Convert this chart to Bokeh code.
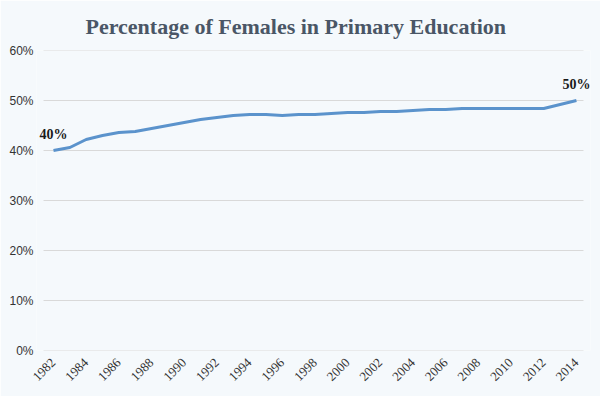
import math
from bokeh.plotting import figure
from bokeh.models import Range1d, FixedTicker, Label, CustomJSTickFormatter
from bokeh.embed import file_html
from bokeh.resources import INLINE

years = list(range(1982, 2015))
female_pct = [40.0, 40.6, 42.2, 43.0, 43.6, 43.8, 44.4, 45.0, 45.6, 46.2, 46.6,
              47.0, 47.2, 47.2, 47.0, 47.2, 47.2, 47.4, 47.6, 47.6, 47.8, 47.8,
              48.0, 48.2, 48.2, 48.4, 48.4, 48.4, 48.4, 48.4, 48.4, 49.2, 50.0]
x_ticks = list(range(1982, 2015, 2))
y_ticks = [0, 10, 20, 30, 40, 50, 60]
title_text = "Percentage of Females in Primary Education"

BG = "#F5F9FC"
p = figure(width=600, height=396, output_backend="svg", toolbar_location=None,
           x_range=Range1d(1980.96, 2014.86), y_range=Range1d(0, 60),
           background_fill_color=BG, border_fill_color=BG,
           min_border_left=36, min_border_right=10, min_border_top=0, min_border_bottom=46)
p.outline_line_color = None

p.title.text = title_text
p.title.align = "left"
p.title.offset = 49
p.title.text_font = "Liberation Serif"
p.title.text_font_style = "bold"
p.title.text_font_size = "22px"
p.title.text_color = "#4A5666"
p.title.standoff = 23

# horizontal gridlines (shorter than the frame, as in the reference)
g_start = years[0] - 0.61
g_end = years[-1] + 0.43
p.segment(x0=[g_start] * len(y_ticks), x1=[g_end] * len(y_ticks), y0=y_ticks, y1=y_ticks,
          line_color="#D9D9D9", line_width=1)

p.line(years, female_pct, line_color="#5B93CC", line_width=3)

for yr, val in [(years[0], female_pct[0]), (years[-1], female_pct[-1])]:
    p.add_layout(Label(x=yr, y=val, text=f"{val:.0f}%", text_align="center",
                       text_baseline="bottom", y_offset=9,
                       text_font="Liberation Serif", text_font_style="bold",
                       text_font_size="14px", text_color="#1A1A1A"))

p.xaxis.ticker = FixedTicker(ticks=x_ticks)
p.yaxis.ticker = FixedTicker(ticks=y_ticks)
p.yaxis.formatter = CustomJSTickFormatter(code="return tick + '%';")
p.xaxis.major_label_orientation = math.pi / 4
for ax in (p.xaxis, p.yaxis):
    ax.axis_line_color = None
    ax.major_tick_line_color = None
    ax.minor_tick_line_color = None
    ax.major_tick_out = 0
    ax.major_tick_in = 0
    ax.minor_tick_out = 0
    ax.minor_tick_in = 0
    ax.major_label_text_color = "#333333"
p.xaxis.major_label_text_font = "Liberation Serif"
p.xaxis.major_label_text_font_size = "13px"
p.yaxis.major_label_text_font = "Liberation Sans"
p.yaxis.major_label_text_font_size = "12px"
p.yaxis.major_label_standoff = 3
p.xaxis.major_label_standoff = 10

p.xgrid.grid_line_color = None
p.ygrid.grid_line_color = None

open("out.html", "w").write(file_html(p, INLINE))
